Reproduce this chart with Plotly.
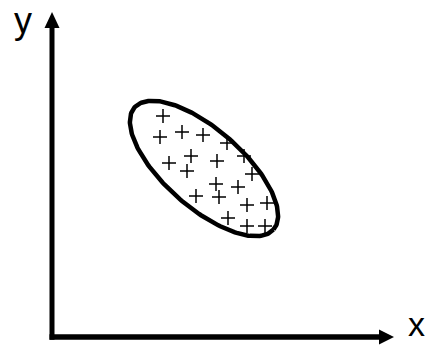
import numpy as np
import plotly.graph_objects as go

W, H = 433, 345

point_x = [163, 160, 182, 203, 227, 244, 191, 169, 187, 217, 252, 216, 238, 196, 219, 247, 267, 228, 247, 265]
point_y = [116, 137, 132, 135, 143, 156, 156, 163, 171, 161, 174, 184, 187, 196, 197, 205, 203, 218, 226, 226]

# Enclosing ellipse parameters
ell_center = (204, 168.5)
ell_a, ell_b = 92.5, 39.0
ell_angle_deg = 41.3

axis_labels = ["x", "y"]

t = np.linspace(0, 2 * np.pi, 241)
th = np.deg2rad(ell_angle_deg)
ex = ell_center[0] + ell_a * np.cos(th) * np.cos(t) - ell_b * np.sin(th) * np.sin(t)
ey = ell_center[1] + ell_a * np.sin(th) * np.cos(t) + ell_b * np.cos(th) * np.sin(t)

fig = go.Figure()
fig.add_trace(go.Scatter(x=ex, y=ey, mode="lines",
                         line=dict(color="black", width=4.5), hoverinfo="skip"))
fig.add_trace(go.Scatter(x=point_x, y=point_y, mode="markers",
                         marker=dict(symbol="cross-thin", size=10,
                                     line=dict(width=1.5, color="black"))))

# axes with arrowheads
ox, oy = 52, 337
shapes = [
    dict(type="line", x0=ox, y0=oy + 2.7, x1=ox, y1=26, line=dict(color="black", width=5)),
    dict(type="line", x0=ox - 2.5, y0=oy, x1=382, y1=oy, line=dict(color="black", width=5.5)),
    dict(type="path", path=f"M {ox-7.5},28 L {ox},12 L {ox+7.5},28 Z",
         fillcolor="black", line=dict(color="black", width=0)),
    dict(type="path", path=f"M 379,{oy-7.5} L 394,{oy} L 379,{oy+7.5} Z",
         fillcolor="black", line=dict(color="black", width=0)),
]

annotations = [
    dict(xref="paper", yref="paper", x=416 / W, y=0, text=axis_labels[0], showarrow=False,
         font=dict(family="Liberation Sans, Arial", size=34, color="black"),
         xanchor="center", yanchor="bottom"),
    dict(xref="paper", yref="paper", x=22.5 / W, y=1 + 2 / H, text=axis_labels[1], showarrow=False,
         font=dict(family="Liberation Sans, Arial", size=36, color="black"),
         xanchor="center", yanchor="top"),
]

fig.update_layout(
    width=W, height=H, margin=dict(l=0, r=0, t=0, b=0),
    paper_bgcolor="white", plot_bgcolor="white", showlegend=False,
    xaxis=dict(range=[0, W], visible=False, fixedrange=True),
    yaxis=dict(range=[H, 0], visible=False, fixedrange=True),
    shapes=shapes, annotations=annotations,
)
fig.write_html("out.html", config=dict(displayModeBar=False),
               post_script="document.body.style.margin='0';document.body.style.overflow='hidden';")
